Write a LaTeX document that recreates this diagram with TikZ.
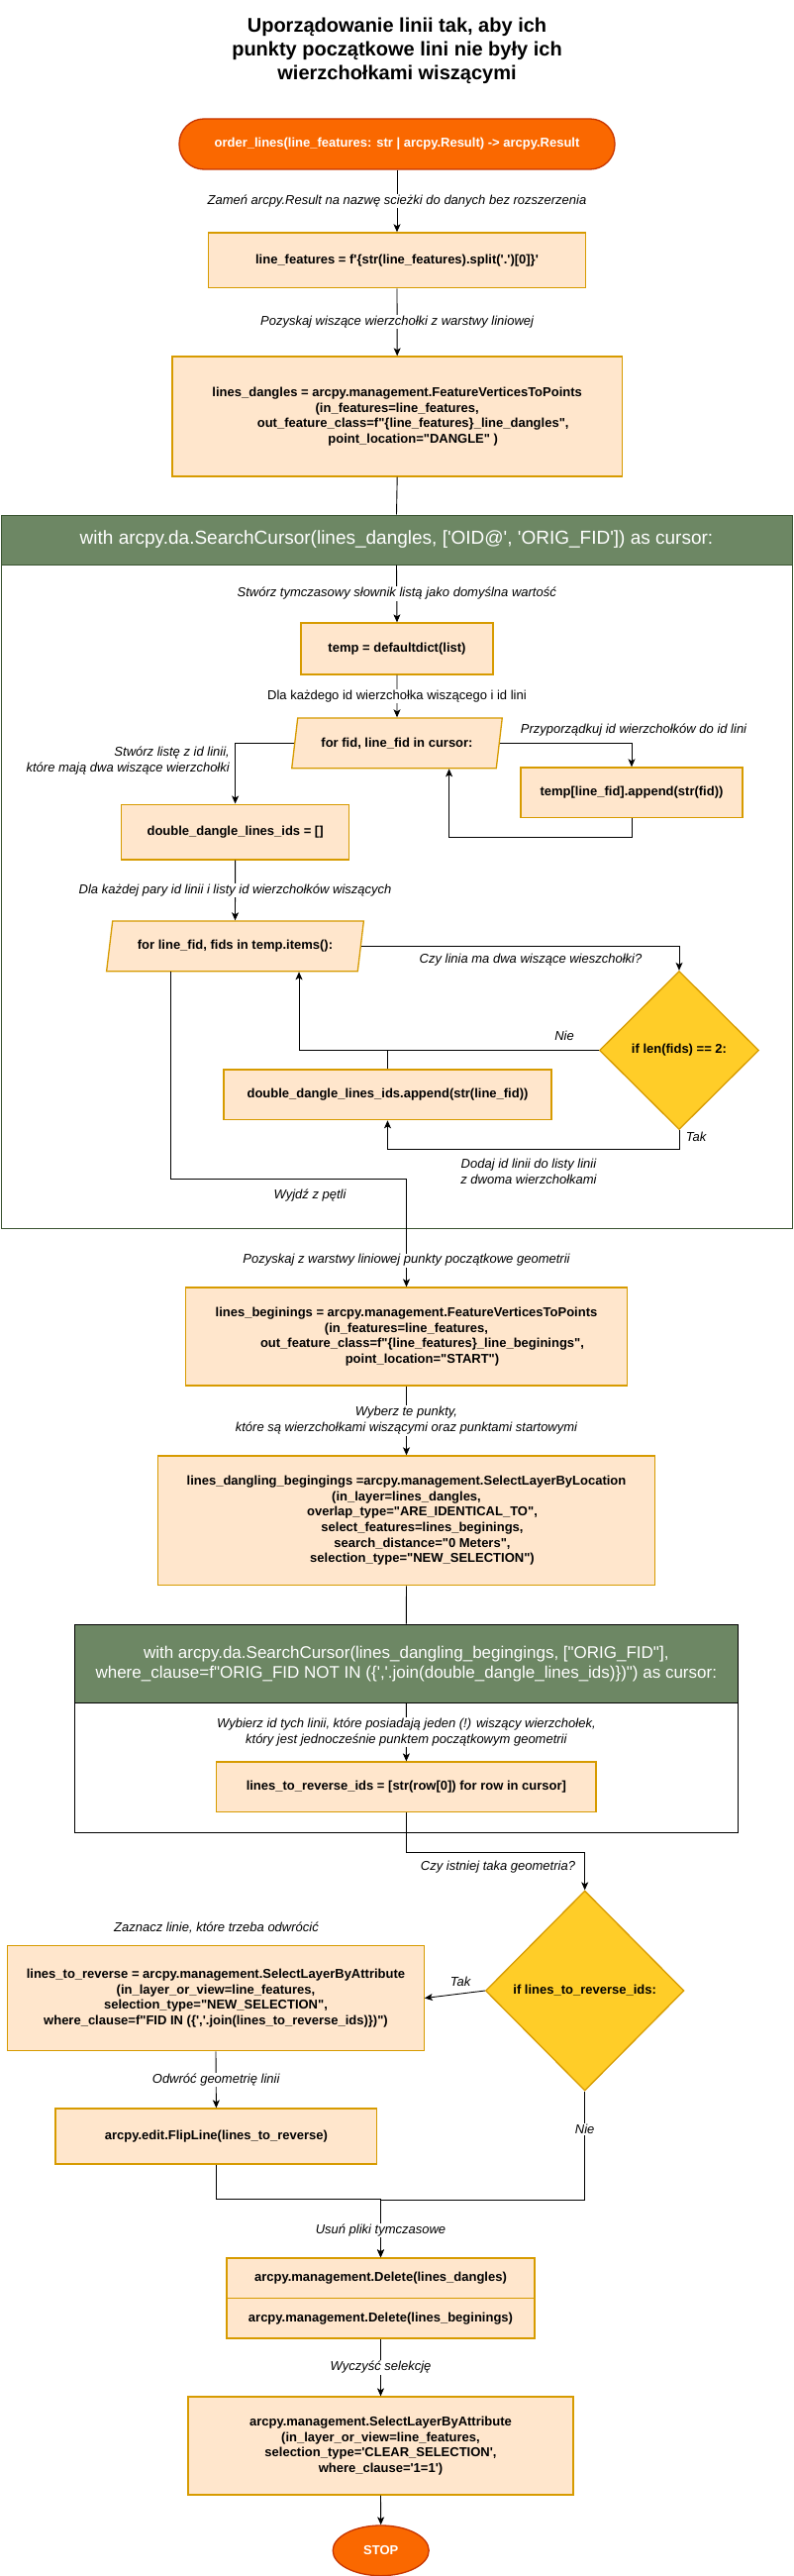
\documentclass[tikz,border=0pt]{standalone}
\usepackage{fontspec}
\newfontfamily\af{Liberation Sans}
\usetikzlibrary{arrows.meta,shapes.geometric}
\definecolor{boxfill}{HTML}{FFE6CC}
\definecolor{boxdraw}{HTML}{D79B00}
\definecolor{termfill}{HTML}{FA6800}
\definecolor{termdraw}{HTML}{C73500}
\definecolor{diafill}{HTML}{FFCD28}
\definecolor{hdrfill}{HTML}{6D8764}
\definecolor{hdrdraw}{HTML}{3A5431}
\tikzset{
  boxtext/.style={font=\af\bfseries\fontsize{13}{15.7}\selectfont, align=center},
  box/.style={boxtext, draw=boxdraw, fill=boxfill, line width=1.3pt, inner sep=0pt},
  para/.style={box, trapezium, trapezium left angle=68.2, trapezium right angle=111.8, trapezium stretches=true},
  dia/.style={boxtext, diamond, draw=boxdraw, fill=diafill, line width=1.3pt, inner sep=0pt},
  term/.style={draw=termdraw, fill=termfill, line width=1.3pt, text=white, font=\af\bfseries\fontsize{13}{15.7}\selectfont},
  hdr/.style={draw=hdrdraw, fill=hdrfill, line width=1pt, text=white, align=center, inner sep=0pt},
  cframe/.style={fill=white, line width=1pt, inner sep=0pt},
  lab/.style={font=\af\itshape\fontsize{13}{16}\selectfont, fill=white, inner sep=1pt, align=center, text=black},
  labu/.style={lab, font=\af\fontsize{13}{16}\selectfont},
  con/.style={draw=black, line width=0.9pt},
  arr/.style={con, -{Stealth[length=8pt,width=7pt,inset=2pt]}},
}
\begin{document}
\begin{tikzpicture}[x=1pt,y=-1pt]
\useasboundingbox (0,0) rectangle (801,2601);
\node[font=\af\bfseries\fontsize{20}{24}\selectfont, align=center] (title) at (401,51) {Uporządowanie linii tak, aby ich\\punkty początkowe lini nie były ich\\wierzchołkami wiszącymi};

\node[term, rounded corners=25pt, minimum width=440pt, minimum height=51pt] (start) at (401,145.5) {order\_lines(line\_features: str | arcpy.Result) -> arcpy.Result};
\node[box, minimum width=380.5pt, minimum height=55.7pt] (b1) at (401,262.8) {line\_features = f'\{str(line\_features).split('.')[0]\}'};
\node[box, minimum width=454.5pt, minimum height=121pt] (b2) at (401.2,420.5) {lines\_dangles = arcpy.management.FeatureVerticesToPoints\\(in\_features=line\_features,\\\hspace*{32pt}out\_feature\_class=f"\{line\_features\}\_line\_dangles",\\\hspace*{32pt}point\_location="DANGLE" )};

% container 1
\node[cframe, draw=hdrdraw, minimum width=799pt, minimum height=720pt] (c1) at (400.5,880) {};
\node[hdr, minimum width=799pt, minimum height=50pt, font=\af\fontsize{19}{23}\selectfont] (h1) at (400.5,545) {with arcpy.da.SearchCursor(lines\_dangles, ['OID@', 'ORIG\_FID']) as cursor:};

\node[box, minimum width=194pt, minimum height=52pt] (tmp) at (401,655) {temp = defaultdict(list)};
\node[para, minimum width=213pt, minimum height=50.7pt] (p1) at (401,750.3) {for fid, line\_fid in cursor:};
\node[box, minimum width=224pt, minimum height=50.7pt] (tapp) at (638,800.3) {temp[line\_fid].append(str(fid))};
\node[box, minimum width=230pt, minimum height=55.7pt] (ddl) at (237.6,840) {double\_dangle\_lines\_ids = []};
\node[para, minimum width=260.4pt, minimum height=50.7pt] (p2) at (237.5,955.3) {for line\_fid, fids in temp.items():};
\node[dia, minimum width=161pt, minimum height=160pt] (d1) at (686,1060.5) {if len(fids) == 2:};
\node[box, minimum width=331pt, minimum height=50.7pt] (dapp) at (391.5,1105.3) {double\_dangle\_lines\_ids.append(str(line\_fid))};

\node[box, minimum width=446pt, minimum height=99pt] (bbeg) at (410.5,1349.5) {lines\_beginings = arcpy.management.FeatureVerticesToPoints\\(in\_features=line\_features,\\\hspace*{32pt}out\_feature\_class=f"\{line\_features\}\_line\_beginings",\\\hspace*{32pt}point\_location="START")};
\node[box, minimum width=502.3pt, minimum height=130.7pt] (bdang) at (410.5,1535.3) {lines\_dangling\_begingings =arcpy.management.SelectLayerByLocation\\(in\_layer=lines\_dangles,\\\hspace*{32pt}overlap\_type="ARE\_IDENTICAL\_TO",\\\hspace*{32pt}select\_features=lines\_beginings,\\\hspace*{32pt}search\_distance="0 Meters",\\\hspace*{32pt}selection\_type="NEW\_SELECTION")};

% container 2
\node[cframe, draw=black, minimum width=669.4pt, minimum height=210pt] (c2) at (410.3,1745) {};
\node[hdr, draw=black, minimum width=669.4pt, minimum height=79.3pt, font=\af\fontsize{17}{20}\selectfont] (h2) at (410.3,1679.7) {with arcpy.da.SearchCursor(lines\_dangling\_begingings, ["ORIG\_FID"],\\where\_clause=f"ORIG\_FID NOT IN (\{','.join(double\_dangle\_lines\_ids)\})") as cursor:};
\node[box, minimum width=383.3pt, minimum height=50.3pt] (bids) at (410.4,1804.2) {lines\_to\_reverse\_ids = [str(row[0]) for row in cursor]};

\node[dia, minimum width=200.5pt, minimum height=202pt] (d2) at (590.7,2010) {if lines\_to\_reverse\_ids:};
\node[box, minimum width=420.5pt, minimum height=106.4pt] (brev) at (218,2017.5) {lines\_to\_reverse = arcpy.management.SelectLayerByAttribute\\(in\_layer\_or\_view=line\_features,\\selection\_type="NEW\_SELECTION",\\where\_clause=f"FID IN (\{','.join(lines\_to\_reverse\_ids)\})")};
\node[lab, fill=none] (zazn) at (218.5,1946.7) {Zaznacz linie, które trzeba odwrócić};
\node[box, minimum width=324.7pt, minimum height=56pt] (flip) at (218.4,2157) {arcpy.edit.FlipLine(lines\_to\_reverse)};
\node[box, minimum width=311pt, minimum height=40.5pt] (del1) at (384.5,2300.2) {arcpy.management.Delete(lines\_dangles)};
\node[box, minimum width=311pt, minimum height=40.5pt] (del2) at (384.5,2340.7) {arcpy.management.Delete(lines\_beginings)};
\node[box, minimum width=389pt, minimum height=99pt] (bsel) at (384.5,2469.5) {arcpy.management.SelectLayerByAttribute\\(in\_layer\_or\_view=line\_features,\\selection\_type='CLEAR\_SELECTION',\\where\_clause='1=1')};
\node[term, ellipse, minimum width=97pt, minimum height=50.7pt, inner sep=0pt] (stop) at (384.7,2575.3) {STOP};

% connectors
\draw[arr] (start.south) -- node[lab]{Zameń arcpy.Result na nazwę scieżki do danych bez rozszerzenia} (b1.north);
\draw[arr] (b1.south) -- node[lab]{Pozyskaj wiszące wierzchołki z warstwy liniowej} (b2.north);
\draw[con] (b2.south) -- (h1.north);
\draw[arr] (h1.south) -- node[lab]{Stwórz tymczasowy słownik listą jako domyślna wartość} (tmp.north);
\draw[arr] (tmp.south) -- node[labu]{Dla każdego id wierzchołka wiszącego i id lini} (p1.north);
\draw[arr] (p1.east) -| (tapp.north);
\node[lab, fill=none] (lprz) at (640,736.7) {Przyporządkuj id wierzchołków do id lini};
\draw[arr] (tapp.south) -- ++(0,19.5) -| ([xshift=52.6pt]p1.south);
\draw[arr] (p1.west) -| (ddl.north);
\node[lab, fill=none, align=right, anchor=east] (lstw) at (233,768.3) {Stwórz listę z id linii,\\które mają dwa wiszące wierzchołki};
\draw[arr] (ddl.south) -- node[lab]{Dla każdej pary id linii i listy id wierzchołków wiszących} (p2.north);
\draw[arr] (p2.east) -| (d1.north);
\node[lab] (lczy) at (536,969) {Czy linia ma dwa wiszące wieszchołki?};
\draw[arr] (d1.west) -| ([xshift=64.5pt]p2.south);
\node[lab, fill=none] (lnie1) at (570,1045.7) {Nie};
\draw[con] (dapp.north) -- (dapp.north |- d1.west);
\draw[arr] (d1.south) -- ++(0,19.5) -| (dapp.south);
\node[lab, fill=none] (ltak1) at (703,1148) {Tak};
\node[lab, fill=none] (ldod) at (534,1182.5) {Dodaj id linii do listy linii\\z dwoma wierzchołkami};
\draw[arr] ([xshift=-64.8pt]p2.south) -- ++(0,209.3) -| node[lab, pos=0.877]{Pozyskaj z warstwy liniowej punkty początkowe geometrii} (bbeg.north);
\node[lab, fill=none] (lwyj) at (313,1206.7) {Wyjdź z pętli};
\draw[arr] (bbeg.south) -- node[lab]{Wyberz te punkty,\\które są wierzchołkami wiszącymi oraz punktami startowymi} (bdang.north);
\draw[con] (bdang.south) -- (h2.north);
\draw[arr] (h2.south) -- node[lab]{Wybierz id tych linii, które posiadają jeden (!) wiszący wierzchołek,\\który jest jednocześnie punktem początkowym geometrii} (bids.north);
\draw[arr] (bids.south) -- ++(0,40.8) -| (d2.north);
\node[lab, fill=none] (lczy2) at (503,1885) {Czy istniej taka geometria?};
\draw[arr] (d2.west) -- (brev.east);
\node[lab, fill=none] (ltak2) at (465,2001) {Tak};
\draw[arr] (brev.south) -- node[lab]{Odwróć geometrię linii} (flip.north);
\draw[arr] (flip.south) -- ++(0,35) -| (del1.north);
\draw[arr] (d2.south) -- node[lab, pos=0.35]{Nie} ++(0,109.3) -| node[lab, pos=0.765]{Usuń pliki tymczasowe} (del1.north);
\draw[arr] (del2.south) -- node[lab]{Wyczyść selekcję} (bsel.north);
\draw[arr] (bsel.south) -- (stop.north);
\end{tikzpicture}
\end{document}
